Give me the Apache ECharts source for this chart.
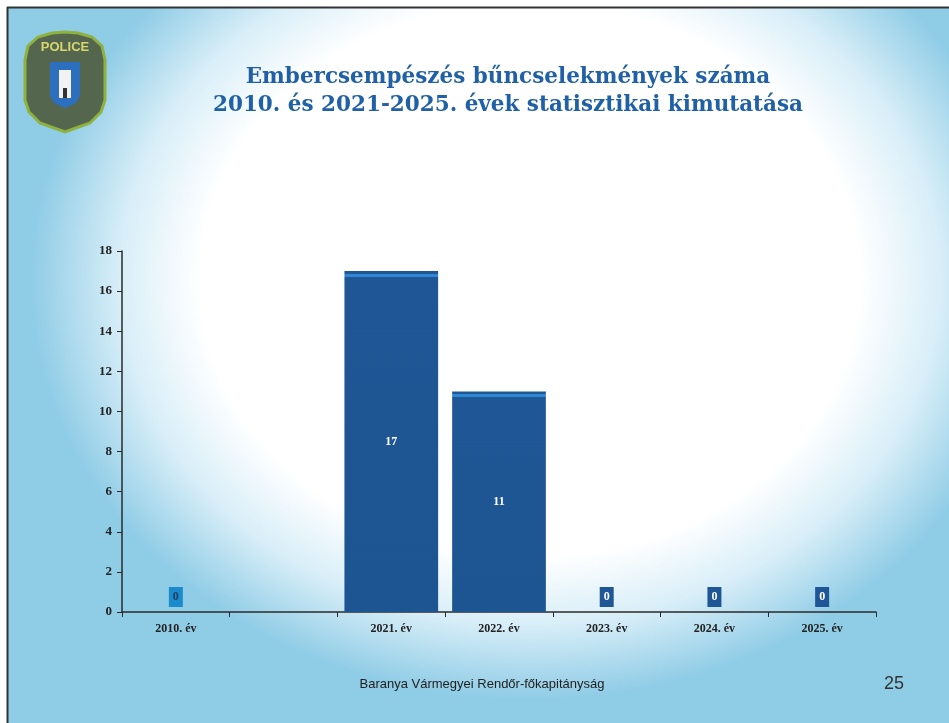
<!DOCTYPE html>
<html>
<head>
<meta charset="utf-8">
<script src="https://cdn.jsdelivr.net/npm/echarts@6/dist/echarts.min.js"></script>
<style>
  html, body { margin: 0; padding: 0; background: #fff; }
  #slide {
    position: absolute; left: 8px; top: 8px; width: 941px; height: 715px;
    background: radial-gradient(ellipse 500px 420px at 522px 272px, #ffffff 66%, #d8eef8 82%, #8fcce6 100%);
  }
  #chart { position: absolute; left: 0; top: 0; width: 949px; height: 723px; }
</style>
</head>
<body>
<div id="slide"></div>
<div id="chart"></div>
<script>
const categories = ["2010. év", "", "2021. év", "2022. év", "2023. év", "2024. év", "2025. év"];
const counts = [0, null, 17, 11, 0, 0, 0];
const yTicks = { min: 0, max: 18, interval: 2 };

const titleText = "Embercsempészés bűncselekmények száma\n2010. és 2021-2025. évek statisztikai kimutatása";
const footerText = "Baranya Vármegyei Rendőr-főkapitányság";
const pageNumber = "25";

const BAR_DARK = "#1f5796";
const BAR_STRIPE = "#2f86d2";
const LIGHT_BOX = "#1b8bcb";
const SERIF = "'Liberation Serif', 'DejaVu Serif', serif";

const chart = echarts.init(document.getElementById("chart"));

const plotHeight = 361; // px between 0 and 18 on the y axis

function barStyle(value) {
  if (!value) {
    return { color: BAR_DARK };
  }
  const h = value * plotHeight / yTicks.max;
  const a = 3 / h, b = 6 / h;
  return {
    color: {
      type: "linear", x: 0, y: 0, x2: 0, y2: 1,
      colorStops: [
        { offset: 0, color: BAR_DARK },
        { offset: a, color: BAR_DARK },
        { offset: a, color: BAR_STRIPE },
        { offset: b, color: BAR_STRIPE },
        { offset: b, color: BAR_DARK },
        { offset: 1, color: "#1d5592" }
      ]
    }
  };
}

const barData = counts.map((v, i) => {
  if (v === null) return "-";
  if (v === 0) {
    const light = i === 0;
    return {
      value: v,
      itemStyle: { color: BAR_DARK },
      label: {
        show: true,
        position: "top",
        distance: 5,
        backgroundColor: light ? LIGHT_BOX : BAR_DARK,
        color: light ? "#1d3f63" : "#ffffff",
        padding: [4, 4, 4, 4]
      }
    };
  }
  return {
    value: v,
    itemStyle: barStyle(v),
    label: { show: true, position: "inside", color: "#ffffff" }
  };
});

// badge outline, rough shield shape
const badgeOutline = [
  [25, 60], [28, 46], [38, 37], [52, 33], [65, 32], [78, 33], [92, 37], [102, 46], [105, 60],
  [105, 100], [101, 112], [90, 123], [65, 132], [40, 123], [29, 112], [25, 100]
];
const badgeInner = [[50, 62], [80, 62], [80, 96], [76, 103], [65, 108], [54, 103], [50, 96]];

const option = {
  backgroundColor: "transparent",
  animation: false,
  title: {
    text: titleText,
    left: 503,
    top: 58,
    textAlign: "center",
    textStyle: {
      fontFamily: "'DejaVu Serif', serif",
      fontWeight: "bold",
      fontSize: 21.5,
      lineHeight: 28,
      color: "#1f60a6"
    }
  },
  grid: { left: 122, right: 73, top: 251, bottom: 111 },
  xAxis: {
    type: "category",
    data: categories,
    axisLine: { lineStyle: { color: "#2b2b2b", width: 1.5 } },
    axisTick: { show: true, length: 5, lineStyle: { color: "#2b2b2b" } },
    axisLabel: {
      margin: 11,
      fontFamily: SERIF,
      fontWeight: "bold",
      fontSize: 12,
      color: "#222"
    }
  },
  yAxis: {
    type: "value",
    min: yTicks.min,
    max: yTicks.max,
    interval: yTicks.interval,
    axisLine: { show: true, lineStyle: { color: "#2b2b2b", width: 1.5 } },
    axisTick: { show: true, length: 5, lineStyle: { color: "#2b2b2b" } },
    splitLine: { show: false },
    axisLabel: {
      margin: 10,
      fontFamily: SERIF,
      fontWeight: "bold",
      fontSize: 13,
      color: "#222"
    }
  },
  series: [{
    type: "bar",
    data: barData,
    barCategoryGap: "13%",
    label: {
      fontFamily: SERIF,
      fontWeight: "bold",
      fontSize: 12
    }
  }],
  graphic: [
    // slide frame (left and top edges)
    { type: "line", shape: { x1: 7.5, y1: 7, x2: 7.5, y2: 723 }, style: { stroke: "#333", lineWidth: 2 } },
    { type: "line", shape: { x1: 7, y1: 7.5, x2: 949, y2: 7.5 }, style: { stroke: "#333", lineWidth: 2 } },
    // police badge
    {
      type: "group",
      children: [
        { type: "polygon", shape: { points: badgeOutline }, style: { fill: "#55664f", stroke: "#8fb13e", lineWidth: 3 } },
        {
          type: "text",
          style: { text: "POLICE", x: 65, y: 41, align: "center", fill: "#d8d66c", font: "bold 13px 'Liberation Sans', sans-serif" }
        },
        { type: "polygon", shape: { points: badgeInner }, style: { fill: "#2c6fbe" } },
        { type: "rect", shape: { x: 59, y: 70, width: 12, height: 28 }, style: { fill: "#f2f2f2" } },
        { type: "rect", shape: { x: 63, y: 88, width: 4, height: 10 }, style: { fill: "#333" } }
      ]
    },
    {
      type: "text",
      style: { text: footerText, x: 482, y: 684, align: "center", verticalAlign: "middle", fill: "#222", font: "13px 'Liberation Sans', Arial, sans-serif" }
    },
    {
      type: "text",
      style: { text: pageNumber, x: 894, y: 684, align: "center", verticalAlign: "middle", fill: "#333", font: "18px 'Liberation Sans', Arial, sans-serif" }
    }
  ]
};

chart.setOption(option);
</script>
</body>
</html>
